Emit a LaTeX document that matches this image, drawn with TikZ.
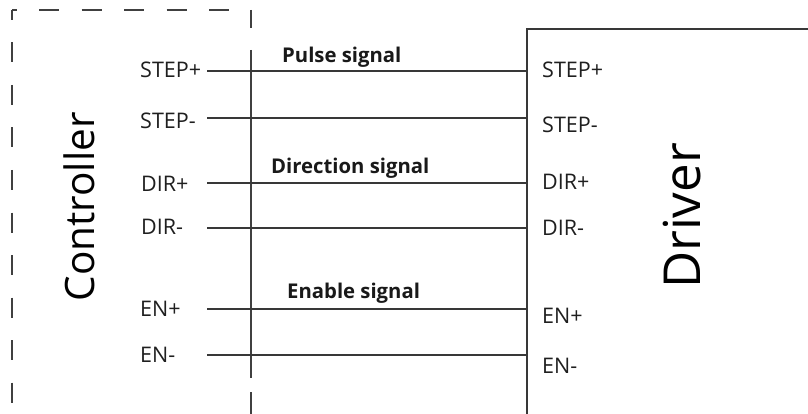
\documentclass[tikz,border=0pt]{standalone}
\usepackage{fontspec}
\setmainfont{Open Sans}
\begin{document}
\begin{tikzpicture}[x=1pt,y=-1pt,
  wire/.style={draw=black!78,line width=1.3pt},
  boundary/.style={draw=black!75,line width=1.4pt,dash pattern=on 20pt off 22.5pt},
  pinlabel/.style={inner sep=0pt,anchor=west,text=black!88,font=\fontsize{21.5}{25}\selectfont},
  siglabel/.style={inner sep=0pt,anchor=base west,text=black!90,font=\fontsize{20.3}{24}\selectfont\bfseries},
  biglabel/.style={inner sep=0pt,rotate=90,text=black}]
\useasboundingbox[fill=white] (0,0) rectangle (808,414);
% controller boundary (dashed)
\coordinate (cTL) at (12,10);
\coordinate (cTR) at (251,10);
\coordinate (cBL) at (12,414);
\draw[boundary,dash phase=10pt] (cTL) -- (cBL);
\draw[boundary,dash phase=15.5pt] (cTL) -- (cTR);
\draw[draw=black!75,line width=1.4pt] (251,10) -- (251,28);
\draw[draw=black!75,line width=1.4pt] (251,50) -- (251,378);
\draw[draw=black!75,line width=1.4pt] (251,392) -- (251,414);
% driver box
\coordinate (dTL) at (527,29);
\draw[draw=black!78,line width=1.4pt] (527,414) -- (dTL) -- (808,29);
% titles
\node[biglabel,font=\fontsize{40.5}{44}\selectfont] (ctrl) at (79,207) {Controller};
\node[biglabel,font=\fontsize{51}{54}\selectfont] (drv) at (682,216) {Driver};
% left pin labels
\node[pinlabel] (l1) at (140,70) {STEP+};
\node[pinlabel] (l2) at (140,121) {STEP-};
\node[pinlabel] (l3) at (141,184) {DIR+};
\node[pinlabel] (l4) at (141,227) {DIR-};
\node[pinlabel] (l5) at (140,309) {EN+};
\node[pinlabel] (l6) at (140,355) {EN-};
% right pin labels
\node[pinlabel] (r1) at (542,70) {STEP+};
\node[pinlabel] (r2) at (542,125) {STEP-};
\node[pinlabel] (r3) at (542,182) {DIR+};
\node[pinlabel] (r4) at (542,228) {DIR-};
\node[pinlabel] (r5) at (542,316) {EN+};
\node[pinlabel] (r6) at (542,366) {EN-};
% wire start points
\coordinate (w1) at (207,71);
\coordinate (w2) at (207,118);
\coordinate (w3) at (207,183);
\coordinate (w4) at (207,228);
\coordinate (w5) at (207,309);
\coordinate (w6) at (207,355);
\foreach \i in {1,...,6}{\draw[wire] (w\i) -- (w\i -| dTL);}
% signal labels
\node[siglabel] (s1) at (282,63) {Pulse signal};
\node[siglabel] (s2) at (271,174) {Direction signal};
\node[siglabel] (s3) at (287,298) {Enable signal};
\end{tikzpicture}
\end{document}
